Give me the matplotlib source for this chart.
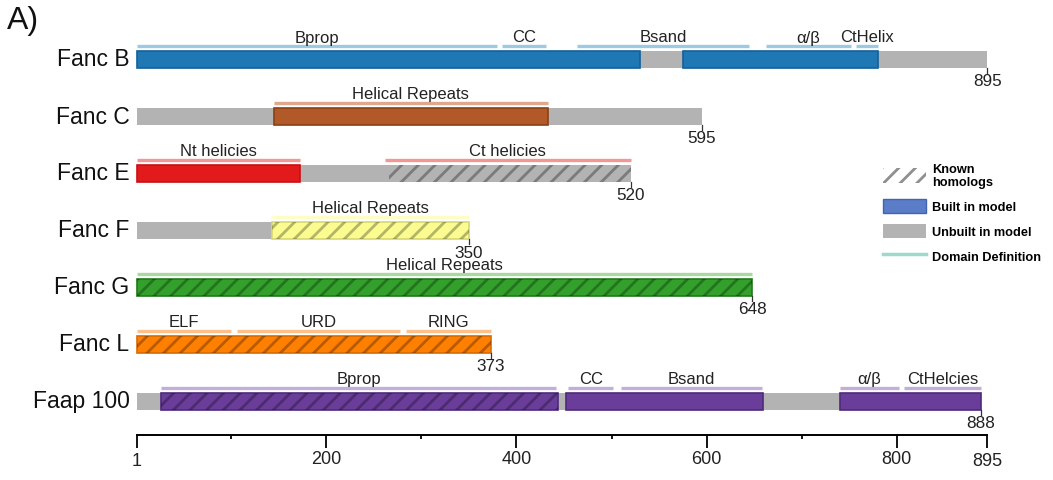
import matplotlib.pyplot as plt
from matplotlib.patches import Rectangle, Patch
from matplotlib.lines import Line2D

plt.rcParams['font.family'] = ['Liberation Sans', 'DejaVu Sans']
plt.rcParams['hatch.linewidth'] = 2.0

# protein names and total lengths (residues)
names = ["Fanc B", "Fanc C", "Fanc E", "Fanc F", "Fanc G", "Fanc L", "Faap 100"]
lengths = [895, 595, 520, 350, 648, 373, 888]

# built regions: (start, end, known homolog)
built = [
    [(1, 530, False), (575, 780, False)],
    [(145, 433, False)],
    [(1, 172, False)],
    [(143, 350, True)],
    [(1, 648, True)],
    [(1, 373, True)],
    [(26, 444, True), (452, 659, False), (740, 888, False)],
]

# unbuilt regions that still have known homologs
unbuilt_homolog = [[], [], [(266, 520)], [], [], [], []]

# domain definitions: (start, end, label)
domains = [
    [(1, 380, "Bprop"), (385, 431, "CC"), (464, 645, "Bsand"),
     (662, 752, "α/β"), (757, 780, "CtHelix")],
    [(145, 433, "Helical Repeats")],
    [(1, 172, "Nt helicies"), (262, 520, "Ct helicies")],
    [(143, 350, "Helical Repeats")],
    [(1, 648, "Helical Repeats")],
    [(1, 100, "ELF"), (106, 278, "URD"), (284, 373, "RING")],
    [(26, 442, "Bprop"), (454, 502, "CC"), (510, 658, "Bsand"),
     (740, 802, "α/β"), (808, 888, "CtHelcies")],
]

face_colors = ["#1f78b4", "#b15928", "#e31a1c", "#fbfb8f", "#33a02c", "#ff7f00", "#6a3d9a"]
edge_colors = ["#13609a", "#8c3f14", "#c81014", "#d8d870", "#1f7a1a", "#d96a00", "#4f2a7a"]
line_colors = ["#9ecae1", "#dfa88d", "#f29696", "#fdfdc5", "#a9d8a0", "#fdc08a", "#c3aed9"]
gray = "#b3b3b3"
hatch_col = (0, 0, 0, 0.28)

axis_ticks = [1, 200, 400, 600, 800, 895]
minor_ticks = [100, 300, 500, 700]

fig = plt.figure(figsize=(10.53, 4.81), dpi=100)
ax = fig.add_axes([0, 0, 1, 1])
ax.set_xlim(-143.06, 964.2)
ax.set_ylim(481, 0)

bar_h = 17
for i, name in enumerate(names):
    yc = 60 + i * 57.0
    top = yc - bar_h / 2
    # full length unbuilt bar
    ax.add_patch(Rectangle((1, top), lengths[i] - 1, bar_h, facecolor=gray,
                           edgecolor="none", zorder=1))
    for s, e in unbuilt_homolog[i]:
        ax.add_patch(Rectangle((s, top), e - s, bar_h, facecolor="none",
                               edgecolor=(0.3, 0.3, 0.3, 0.55), hatch="//",
                               linewidth=0, zorder=3))
    for s, e, hom in built[i]:
        ax.add_patch(Rectangle((s, top), e - s, bar_h, facecolor=face_colors[i],
                               edgecolor=edge_colors[i], linewidth=1.2, zorder=2))
        if hom:
            ax.add_patch(Rectangle((s, top), e - s, bar_h, facecolor="none",
                                   edgecolor=hatch_col, hatch="//",
                                   linewidth=0, zorder=3))
    # domain lines + labels
    ly = yc - 13
    for s, e, lab in domains[i]:
        ax.plot([s, e], [ly, ly], color=line_colors[i], lw=2.4,
                solid_capstyle="butt", zorder=2)
        ax.text((s + e) / 2, ly - 1.5, lab, ha="center", va="bottom",
                fontsize=12, color="#222222")
    # protein name
    ax.text(-7, yc, name, ha="right", va="center", fontsize=16.5, color="#111111")
    # end marker
    ax.plot([lengths[i], lengths[i]], [top + bar_h, top + bar_h + 5],
            color="#333333", lw=0.9, zorder=2)
    ax.text(lengths[i], yc + 14.5, str(lengths[i]), ha="center", va="top",
            fontsize=12.3, color="#222222")

ax.text(0.007, 0.957, "A)", transform=ax.transAxes, fontsize=23,
        ha="left", va="center", color="#111111")

# residue axis
for sp in ["left", "top", "right"]:
    ax.spines[sp].set_visible(False)
ax.spines["bottom"].set_position(("data", 436))
ax.spines["bottom"].set_bounds(1, 895)
ax.spines["bottom"].set_linewidth(1.4)
ax.spines["bottom"].set_zorder(5)
ax.set_yticks([])
ax.set_xticks(axis_ticks)
ax.set_xticklabels([str(t) for t in axis_ticks], fontsize=13, color="#222222")
ax.set_xticks(minor_ticks, minor=True)
ax.tick_params(axis="x", which="major", direction="out", length=9.4, width=1.3,
               pad=1.5)
ax.tick_params(axis="x", which="minor", direction="out", length=3, width=1.3)
for tick in ax.xaxis.get_major_ticks():
    if tick.get_loc() in (1, 895):
        tick.tick1line.set_markersize(12.3)
        tick.set_pad(3)

# legend
handles = [
    Patch(facecolor="none", edgecolor=(0.45, 0.45, 0.45, 0.8), hatch="//", linewidth=0),
    Patch(facecolor="#5b7dc8", edgecolor="#3f63b5", linewidth=1),
    Patch(facecolor=gray, edgecolor="none"),
    Line2D([], [], color="#9fd9cc", lw=2.5),
]
labels = ["Known\nhomologs", "Built in model", "Unbuilt in model", "Domain Definition"]
ax.legend(handles, labels, loc="upper left", bbox_to_anchor=(0.8385, 0.66),
          frameon=False, prop={"weight": "bold", "size": 9.2},
          handlelength=3.4, handleheight=1.4, handletextpad=0.45,
          labelspacing=0.8, borderpad=0, borderaxespad=0)

fig.savefig("out.png", dpi=100)
